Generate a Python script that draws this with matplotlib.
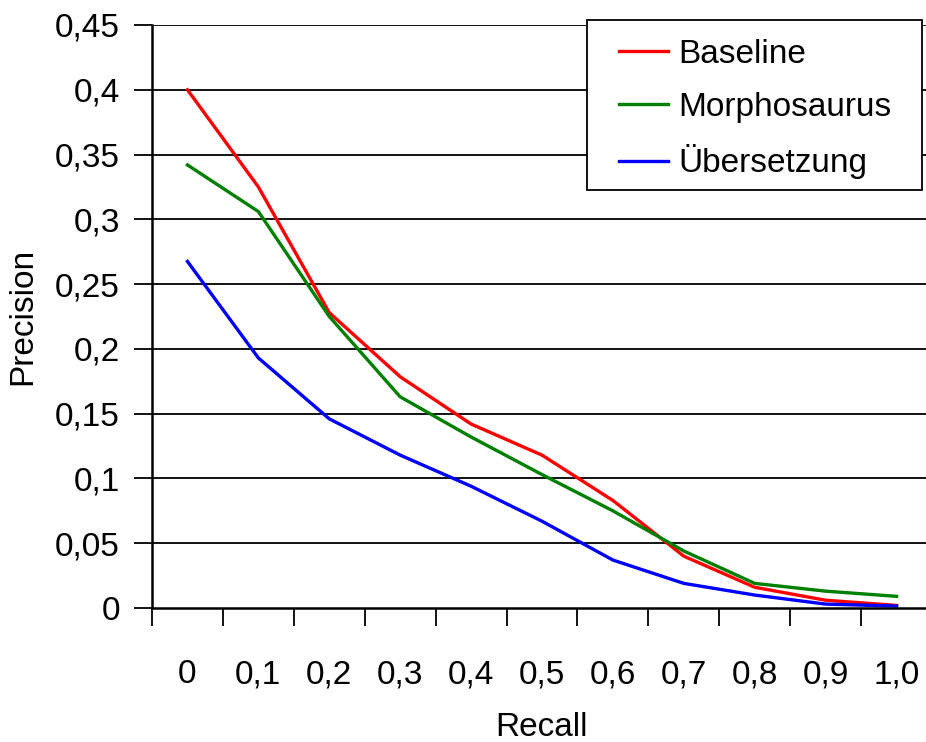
import numpy as np
import matplotlib
matplotlib.use("Agg")
import matplotlib.pyplot as plt
from matplotlib.patches import Rectangle

recall_labels = ["0", "0,1", "0,2", "0,3", "0,4", "0,5", "0,6", "0,7", "0,8", "0,9", "1,0"]
baseline = [0.400, 0.325, 0.228, 0.1785, 0.142, 0.118, 0.083, 0.040, 0.016, 0.006, 0.002]
morphosaurus = [0.342, 0.306, 0.225, 0.163, 0.132, 0.103, 0.075, 0.044, 0.019, 0.013, 0.009]
uebersetzung = [0.2675, 0.193, 0.146, 0.118, 0.094, 0.067, 0.037, 0.019, 0.010, 0.003, 0.0015]
y_ticks = [0, 0.05, 0.1, 0.15, 0.2, 0.25, 0.3, 0.35, 0.4, 0.45]

plt.rcParams['font.family'] = ['Liberation Sans', 'DejaVu Sans']
fs = 24

fig = plt.figure(figsize=(9.26, 7.42), dpi=100)
W, H = 926, 742
ax = fig.add_axes([152 / W, (H - 608) / H, 780 / W, 583 / H])

x = np.arange(len(recall_labels))
ax.plot(x, baseline, color='#FF0000', lw=2.4, label='Baseline')
ax.plot(x, morphosaurus, color='#008000', lw=2.4, label='Morphosaurus')
ax.plot(x, uebersetzung, color='#0000FF', lw=2.4, label='Übersetzung')

ax.set_xlim(-0.5, len(recall_labels) - 0.5)
ax.set_ylim(0, 0.45)

# y axis with comma decimals
ax.set_yticks(y_ticks)
ax.set_yticklabels([f"{v:g}".replace('.', ',') for v in y_ticks], fontsize=fs)
for v in y_ticks[1:]:
    ax.axhline(v, color='black', lw=1.3, zorder=0)

# category ticks between the points, labels at the centers
ax.set_xticks(np.arange(-0.5, len(recall_labels)), minor=False)
ax.set_xticklabels([])
ax.set_xticks(x, minor=True)
ax.set_xticklabels(recall_labels, minor=True, fontsize=fs)
ax.tick_params(axis='x', which='minor', length=0, pad=37)
ax.tick_params(axis='x', which='major', length=13, width=1.3, direction='out')
ax.tick_params(axis='y', length=13, width=1.3, direction='out', pad=10)

for s in ['top', 'right']:
    ax.spines[s].set_visible(False)
for s in ['left', 'bottom']:
    ax.spines[s].set_linewidth(1.8)
    ax.spines[s].set_color('black')

ax.set_ylabel('Precision', fontsize=fs)
ax.yaxis.set_label_coords((38 - 152) / 780, 0.5)
ax.set_xlabel('Recall', fontsize=fs)
ax.xaxis.set_label_coords(0.5, -(712 - 608) / 583)

# legend box drawn separately so the padding matches
ax.add_patch(Rectangle((587 / W, 1 - 190 / H), 335 / W, 170 / H,
                       transform=fig.transFigure, facecolor='white',
                       edgecolor='black', lw=1.3, zorder=5, clip_on=False))
leg = ax.legend(loc='upper left', bbox_to_anchor=(619 / W, 1 - 39 / H),
                bbox_transform=fig.transFigure, fontsize=fs, frameon=False,
                handlelength=1.47, handletextpad=0.3, labelspacing=0.65,
                borderpad=0, borderaxespad=0)
leg.set_zorder(6)

fig.savefig('out.png', dpi=100)
